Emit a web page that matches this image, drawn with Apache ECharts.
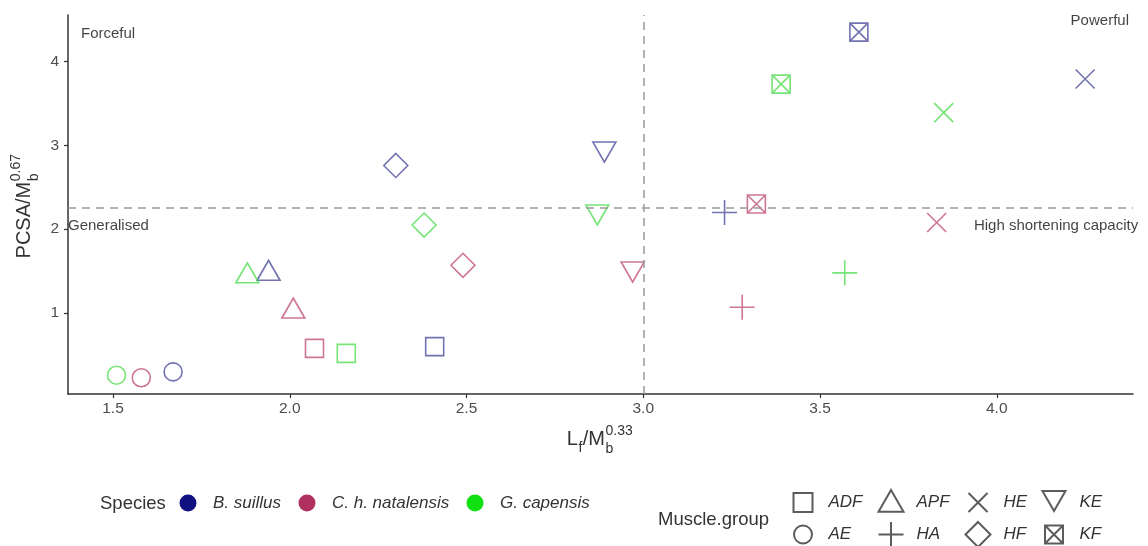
<!DOCTYPE html>
<html>
<head>
<meta charset="utf-8">
<script src="https://cdn.jsdelivr.net/npm/echarts@6/dist/echarts.min.js"></script>
<style>
html,body{margin:0;padding:0;background:#fff;}
#chart{width:1148px;height:546px;}
</style>
</head>
<body>
<div id="chart"></div>
<script>
// ---------------- data ----------------
const muscleGroups = ['ADF', 'AE', 'APF', 'HA', 'HE', 'HF', 'KE', 'KF'];
const species = ['B. suillus', 'C. h. natalensis', 'G. capensis'];
// values ordered as muscleGroups
const bSuillusX = [2.41, 1.67, 1.94, 3.23, 4.25, 2.30, 2.89, 3.61];
const bSuillusY = [0.60, 0.30, 1.51, 2.20, 3.79, 2.76, 2.92, 4.35];
const chNatalensisX = [2.07, 1.58, 2.01, 3.28, 3.83, 2.49, 2.97, 3.32];
const chNatalensisY = [0.58, 0.23, 1.06, 1.07, 2.08, 1.57, 1.49, 2.30];
const gCapensisX = [2.16, 1.51, 1.88, 3.57, 3.85, 2.38, 2.87, 3.39];
const gCapensisY = [0.52, 0.26, 1.48, 1.48, 3.39, 2.05, 2.17, 3.73];
const xTicks = [1.5, 2.0, 2.5, 3.0, 3.5, 4.0];
const yTicks = [1, 2, 3, 4];
const quadrantLabels = ['Forceful', 'Powerful', 'Generalised', 'High shortening capacity'];
const legendColumns = [['ADF', 'AE'], ['APF', 'HA'], ['HE', 'HF'], ['KE', 'KF']];
const refX = 3.0;
const refY = 2.25;

// ---------------- styles ----------------
const FONT = '"Liberation Sans", Arial, Helvetica, sans-serif';
const markerColors = ['#4f4f9d', '#c05474', '#55dd55'];
const legendColors = ['#101080', '#b03060', '#10e010'];
const corePaths = {
  ADF: 'M0,0L20,0L20,20L0,20Z',
  AE:  'M0,10A10,10,0,1,1,20,10A10,10,0,1,1,0,10Z',
  APF: 'M10,0L20,17.3L0,17.3Z',
  HA:  'M0,10L20,10M10,0L10,20',
  HE:  'M0,0L20,20M20,0L0,20',
  HF:  'M10,0L20,10L10,20L0,10Z',
  KE:  'M0,0L20,0L10,17.3Z',
  KF:  'M0,0L20,0L20,20L0,20ZM0,0L20,20M20,0L0,20'
};
const markerSize = { ADF: 18, AE: 18, APF: [23, 20], HA: 25, HE: 19, HF: 24, KE: [23, 20], KF: 18 };
const legendIconSize = { ADF: 19, AE: 18, APF: 25, HA: 25, HE: 19, HF: 25, KE: 23, KF: 18 };
const LEG_BOX = 25;
function paddedPath(g) {
  // invisible zero-length corners enlarge the bounding box so the icon is drawn at the wanted size
  const p = (20 * LEG_BOX / legendIconSize[g] - 20) / 2;
  const a = (-p).toFixed(3), b = (20 + p).toFixed(3);
  return 'path://M' + a + ',' + a + 'L' + a + ',' + a + 'M' + b + ',' + b + 'L' + b + ',' + b + corePaths[g];
}

const allX = [bSuillusX, chNatalensisX, gCapensisX];
const allY = [bSuillusY, chNatalensisY, gCapensisY];

const xMin = 1.3727, xMax = 4.3854, yMin = 0.0357, yMax = 4.5536;

const series = [];
species.forEach((sp, si) => {
  series.push({
    name: sp + ' points',
    type: 'scatter',
    data: muscleGroups.map((g, gi) => ({
      value: [allX[si][gi], allY[si][gi]],
      symbol: 'path://' + corePaths[g],
      symbolSize: markerSize[g]
    })),
    itemStyle: { color: 'rgba(0,0,0,0)', borderColor: markerColors[si], borderWidth: 1.6 },
    emphasis: { disabled: true },
    z: 3
  });
  // legend-only series (filled dot)
  series.push({
    name: sp, type: 'scatter', data: [], symbol: 'circle',
    itemStyle: { color: legendColors[si], borderWidth: 0, opacity: 1 }
  });
});
muscleGroups.forEach(g => {
  series.push({
    name: g, type: 'scatter', data: [], symbol: paddedPath(g),
    itemStyle: { color: 'rgba(0,0,0,0)', borderColor: '#333', borderWidth: 1.3 }
  });
});
// quadrant labels + reference lines
series.push({
  name: 'annotations',
  type: 'scatter',
  clip: false,
  silent: true,
  symbolSize: 0,
  data: [
    { value: [1.4095, 4.33], label: { show: true, formatter: quadrantLabels[0], position: 'right', distance: 0 } },
    { value: [4.374, 4.48], label: { show: true, formatter: quadrantLabels[1], position: 'left', distance: 0 } },
    { value: [xMin, 2.045], label: { show: true, formatter: quadrantLabels[2], position: 'right', distance: 0 } },
    { value: [4.40, 2.036], label: { show: true, formatter: quadrantLabels[3], position: 'left', distance: 0 } }
  ],
  label: { color: '#111', fontSize: 15, fontFamily: FONT },
  markLine: {
    silent: true,
    symbol: 'none',
    label: { show: false },
    lineStyle: { color: '#9a9a9a', type: [8, 6], width: 1.5 },
    data: [{ xAxis: refX }, { yAxis: refY }],
    animation: false
  },
  z: 1
});

// ---------------- legends ----------------
const measureCtx = document.createElement('canvas').getContext('2d');
function tw(text, size, italic) {
  measureCtx.font = (italic ? 'italic ' : '') + size + 'px ' + FONT;
  return measureCtx.measureText(text).width;
}
const LEG_FONT = 17;
const NB = '\u00a0';
const legendText = { rich: {
  sp: { width: 11.5, fontSize: LEG_FONT, color: 'rgba(0,0,0,0)' },
  ms: { width: 8, fontSize: LEG_FONT, color: 'rgba(0,0,0,0)' },
  t: { fontStyle: 'italic', fontSize: LEG_FONT, color: '#333', fontFamily: FONT }
} };
const speciesLeft = [179.5, 298.5, 466.5];
const muscleLeft = [789.5, 877.5, 964.5, 1040.5];
const legends = [];
species.forEach((s, i) => {
  legends.push({
    data: [s], left: speciesLeft[i], top: 494.5, orient: 'horizontal', padding: 0,
    itemWidth: 17, itemHeight: 17, selectedMode: false,
    formatter: n => '{sp|' + NB + '}{t|' + n + '}',
    textStyle: legendText
  });
});
legendColumns.forEach((col, i) => {
  legends.push({
    data: col, left: muscleLeft[i], top: 489, width: 90, height: 80, orient: 'vertical', padding: 0,
    itemWidth: LEG_BOX, itemHeight: LEG_BOX, itemGap: 5, selectedMode: false,
    formatter: n => '{ms|' + NB + '}{t|' + n + '}',
    textStyle: legendText
  });
});

// ---------------- axis titles with stacked sub/superscripts ----------------
function buildTitle(parts) {
  const big = 20, small = 14;
  let x = 0; const children = [];
  parts.forEach(p => {
    if (p.kind === 'main') {
      children.push({ type: 'text', style: { text: p.t, x: x, y: 0, font: big + 'px ' + FONT, fill: '#333', verticalAlign: 'middle' } });
      x += tw(p.t, big);
    } else if (p.kind === 'sub') {
      children.push({ type: 'text', style: { text: p.t, x: x + 0.5, y: 9, font: small + 'px ' + FONT, fill: '#333', verticalAlign: 'middle' } });
      x += tw(p.t, small) + 1;
    } else {
      children.push({ type: 'text', style: { text: p.sup, x: x + 0.5, y: -8, font: small + 'px ' + FONT, fill: '#333', verticalAlign: 'middle' } });
      children.push({ type: 'text', style: { text: p.sub, x: x + 0.5, y: 10, font: small + 'px ' + FONT, fill: '#333', verticalAlign: 'middle' } });
      x += Math.max(tw(p.sup, small), tw(p.sub, small)) + 1;
    }
  });
  children.forEach(c => { c.style.x -= x / 2; });
  return children;
}
const xTitle = buildTitle([{ t: 'L', kind: 'main' }, { t: 'f', kind: 'sub' }, { t: '/M', kind: 'main' }, { kind: 'stack', sup: '0.33', sub: 'b' }]);
const yTitle = buildTitle([{ t: 'PCSA/M', kind: 'main' }, { kind: 'stack', sup: '0.67', sub: 'b' }]);

const chart = echarts.init(document.getElementById('chart'), null, { renderer: 'canvas' });
chart.setOption({
  animation: false,
  backgroundColor: '#ffffff',
  textStyle: { fontFamily: FONT },
  grid: { left: 68, right: 15, top: 15, bottom: 152, containLabel: false },
  xAxis: {
    type: 'value', min: xMin, max: xMax,
    splitLine: { show: false },
    axisLine: { show: true, onZero: false, lineStyle: { color: '#333', width: 1.5 } },
    axisTick: { show: true, length: 4, customValues: xTicks, lineStyle: { color: '#333', width: 1.2 } },
    axisLabel: { customValues: xTicks, formatter: v => v.toFixed(1), color: '#4d4d4d', fontSize: 15.5, margin: 7, fontFamily: FONT }
  },
  yAxis: {
    type: 'value', min: yMin, max: yMax,
    splitLine: { show: false },
    axisLine: { show: true, onZero: false, lineStyle: { color: '#333', width: 1.5 } },
    axisTick: { show: true, length: 4, customValues: yTicks, lineStyle: { color: '#333', width: 1.2 } },
    axisLabel: { customValues: yTicks, formatter: v => String(v), color: '#4d4d4d', fontSize: 15.5, margin: 9, fontFamily: FONT }
  },
  legend: legends,
  graphic: [
    { type: 'group', x: 600, y: 439, children: xTitle },
    { type: 'group', x: 24, y: 206, rotation: Math.PI / 2, children: yTitle },
    { type: 'text', style: { text: 'Species', x: 100, y: 504, font: '18.5px ' + FONT, fill: '#333', verticalAlign: 'middle' } },
    { type: 'text', style: { text: 'Muscle.group', x: 658, y: 520, font: '18.5px ' + FONT, fill: '#333', verticalAlign: 'middle' } }
  ],
  series: series
});
</script>
</body>
</html>
